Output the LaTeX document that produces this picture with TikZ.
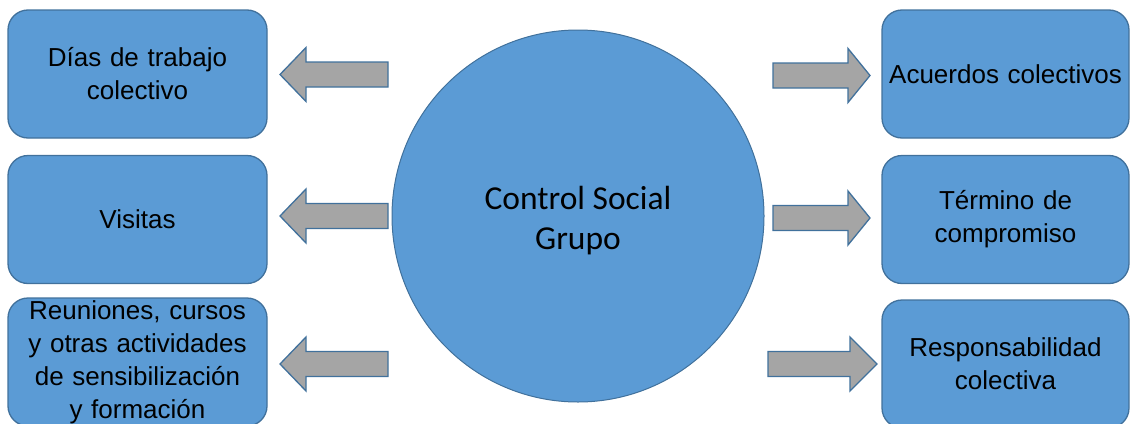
\documentclass[tikz,border=0pt]{standalone}
\usepackage{fontspec}
\setmainfont{Liberation Sans}
\newfontfamily\calibrifont{Carlito}
\definecolor{boxfill}{HTML}{5B9BD5}
\definecolor{boxline}{HTML}{41719C}
\definecolor{arrowfill}{HTML}{A5A5A5}
\begin{document}
\begin{tikzpicture}[x=1pt,y=-1pt,
  infobox/.style={draw=boxline, line width=1.3pt, fill=boxfill, rounded corners=20pt,
    inner sep=0pt, align=center, text=black,
    font=\fontsize{26}{33}\selectfont},
  leftbox/.style={infobox, minimum width=259pt, minimum height=128pt, text width=255pt},
  rightbox/.style={infobox, minimum width=247pt, minimum height=128pt, text width=243pt},
  hub/.style={circle, draw=boxline, line width=1pt, fill=boxfill, minimum size=372pt,
    inner sep=0pt},
  hubtext/.style={align=center, inner sep=0pt, font=\calibrifont\fontsize{33.5}{40}\selectfont},
  garrow/.style={draw=boxline, line width=1.3pt, fill=arrowfill, line join=miter},
  pics/larrow/.style 2 args={code={
    \draw[garrow] (0,-12.5) -- (-#1,-12.5) -- (-#1,-27) -- (-#2,0) -- (-#1,27)
      -- (-#1,12.5) -- (0,12.5) -- cycle;}},
  pics/rarrow/.style 2 args={code={
    \draw[garrow] (0,-12.5) -- (#1,-12.5) -- (#1,-27) -- (#2,0) -- (#1,27)
      -- (#1,12.5) -- (0,12.5) -- cycle;}}
]
\useasboundingbox (0,0) rectangle (1131,423);
\clip (0,0) rectangle (1131,423);

% central circle and its caption
\node[hub] (hub) at (578,216) {};
\node[hubtext] (hubcaption) at (578,221) {Control Social\\Grupo};

% activities on the left
\node[leftbox] (dias) at (137.5,74) {Días de trabajo\\colectivo};
\node[leftbox] (visitas) at (137.5,219.5) {Visitas};
\node[leftbox] (reuniones) at (137.5,362) {Reuniones, cursos\\y otras actividades\\de sensibilización\\y formación};

% results on the right
\node[rightbox] (acuerdos) at (1005.5,74) {Acuerdos colectivos};
\node[rightbox] (termino) at (1005.5,219.5) {Término de\\compromiso};
\node[rightbox] (resp) at (1005.5,364) {Responsabilidad\\colectiva};

% block arrows
\coordinate (la1) at (388,74.5);
\coordinate (la2) at (388,216);
\coordinate (la3) at (388,364);
\coordinate (ra1) at (773,75.5);
\coordinate (ra2) at (773,218);
\coordinate (ra3) at (768,364);
\pic at (la1) {larrow={82}{108}};
\pic at (la2) {larrow={82}{108}};
\pic at (la3) {larrow={82}{108}};
\pic at (ra1) {rarrow={75}{97}};
\pic at (ra2) {rarrow={75}{97}};
\pic at (ra3) {rarrow={82}{109}};
\end{tikzpicture}
\end{document}
